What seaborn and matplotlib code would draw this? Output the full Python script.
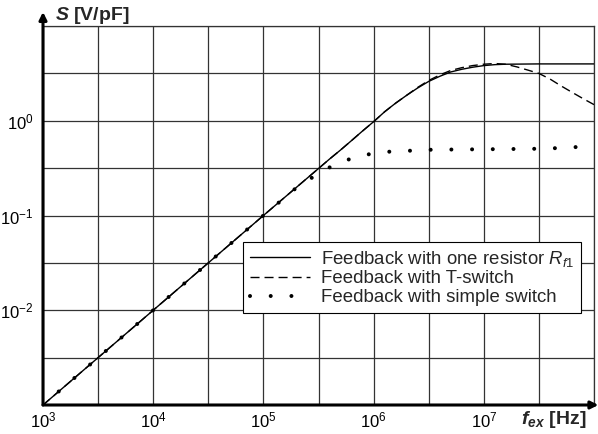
import matplotlib
matplotlib.use("Agg")
import matplotlib.pyplot as plt
import seaborn as sns
import pandas as pd
from matplotlib.ticker import FixedLocator, FixedFormatter, NullLocator

# ---- data ----
freq_one_resistor = [1e3, 1e4, 1e5, 3.16e5, 3.98e5, 5e5, 6.3e5, 7.9e5, 1e6, 1.26e6, 1.58e6, 2e6,
                     2.5e6, 3.16e6, 4e6, 5e6, 6.3e6, 7.9e6, 1e7, 1.26e7, 1.58e7, 3.16e7, 1e8]
s_one_resistor = [0.001, 0.01, 0.1, 0.313, 0.394, 0.49, 0.617, 0.776, 0.977, 1.245, 1.53, 1.86,
                  2.21, 2.6, 2.95, 3.27, 3.49, 3.67, 3.82, 3.91, 3.95, 3.98, 3.98]

freq_t_switch = [1e3, 1e4, 1e5, 3.16e5, 3.98e5, 5e5, 6.3e5, 7.9e5, 1e6, 1.26e6, 1.58e6, 2e6,
                 2.5e6, 3.16e6, 4e6, 5e6, 6.3e6, 7.9e6, 1e7, 1.26e7, 1.58e7, 2e7, 2.5e7,
                 3.16e7, 4e7, 5e7, 6.3e7, 7.9e7, 1e8]
s_t_switch = [0.001, 0.01, 0.1, 0.313, 0.394, 0.49, 0.617, 0.776, 0.977, 1.245, 1.53, 1.86,
              2.24, 2.66, 3.05, 3.39, 3.63, 3.82, 3.95, 4.02, 3.95, 3.70, 3.43,
              3.16, 2.75, 2.34, 2.0, 1.72, 1.48]

freq_simple_switch = [1e3, 1e4, 1e5, 2e5, 2.85e5, 4.1e5, 6.2e5, 9.3e5, 1.4e6, 3.4e6, 1e7, 3.6e7, 7e7, 1e8]
s_simple_switch = [0.001, 0.01, 0.1, 0.197, 0.257, 0.328, 0.398, 0.446, 0.472, 0.495, 0.50, 0.507, 0.528, 0.535]

legend_labels = [
    r"Feedback with one resistor $\mathit{R_{f1}}$",
    "Feedback with T-switch",
    "Feedback with simple switch",
]

x_tick_exponents = [3, 4, 5, 6, 7]
y_tick_exponents = [-2, -1, 0]

# ---- style ----
sns.set_theme(style="white")
plt.rcParams["font.family"] = ["Liberation Sans", "DejaVu Sans"]
plt.rcParams["mathtext.fontset"] = "custom"
plt.rcParams["mathtext.rm"] = "Liberation Sans"
plt.rcParams["mathtext.it"] = "Liberation Sans:italic"
plt.rcParams["mathtext.bf"] = "Liberation Sans:bold"
plt.rcParams["mathtext.bfit"] = "Liberation Sans:bold:italic"
plt.rcParams["mathtext.default"] = "regular"
plt.rcParams["lines.scale_dashes"] = False

fig = plt.figure(figsize=(5.98, 4.34), dpi=100)
ax = fig.add_axes([43 / 598, 29 / 434, 551 / 598, 379 / 434])
ax.set_xscale("log")
ax.set_yscale("log")

df1 = pd.DataFrame({"f": freq_one_resistor, "S": s_one_resistor})
df2 = pd.DataFrame({"f": freq_t_switch, "S": s_t_switch})
df3 = pd.DataFrame({"f": freq_simple_switch, "S": s_simple_switch})

sns.lineplot(data=df1, x="f", y="S", ax=ax, color="black", lw=1.0,
             label=legend_labels[0], estimator=None, sort=False, zorder=3)
sns.lineplot(data=df2, x="f", y="S", ax=ax, color="black", lw=1.0,
             linestyle=(0, (6.5, 3.6)), label=legend_labels[1],
             estimator=None, sort=False, zorder=3)
sns.lineplot(data=df3, x="f", y="S", ax=ax, color="black", lw=2.9,
             linestyle=(0, (0.01, 14.9)), dash_capstyle="round",
             label=legend_labels[2], estimator=None, sort=False, zorder=3)

ax.set_xlim(1e3, 1e8)
ax.set_ylim(1e-3, 1e1)

# grid at every half decade
xgrid = [10 ** (k / 2) for k in range(6, 17)]
ygrid = [10 ** (k / 2) for k in range(-6, 3)]
xlabels = [(r"$10^{%d}$" % (k // 2)) if (k % 2 == 0 and k // 2 in x_tick_exponents) else "" for k in range(6, 17)]
ylabels = [(r"$10^{%d}$" % (k // 2)) if (k % 2 == 0 and k // 2 in y_tick_exponents) else "" for k in range(-6, 3)]
ax.xaxis.set_major_locator(FixedLocator(xgrid))
ax.xaxis.set_major_formatter(FixedFormatter(xlabels))
ax.yaxis.set_major_locator(FixedLocator(ygrid))
ax.yaxis.set_major_formatter(FixedFormatter(ylabels))
ax.xaxis.set_minor_locator(NullLocator())
ax.yaxis.set_minor_locator(NullLocator())
ax.grid(True, which="major", color="#333333", lw=0.9)
ax.set_axisbelow(True)
ax.tick_params(axis="both", length=0, labelsize=12, colors="black")
ax.tick_params(axis="x", pad=4)
ax.tick_params(axis="y", pad=7)
ax.set_xlabel("")
ax.set_ylabel("")

for side in ["left", "bottom"]:
    ax.spines[side].set_visible(False)
for side in ["top", "right"]:
    ax.spines[side].set_color("#333333")
    ax.spines[side].set_linewidth(0.9)

arrow = dict(arrowstyle="-|>", color="black", lw=2.2, mutation_scale=11, shrinkA=0, shrinkB=0)
ax.annotate("", xy=(1.008, 0), xytext=(0, 0), xycoords="axes fraction",
            arrowprops=arrow, annotation_clip=False)
ax.annotate("", xy=(0, 1.037), xytext=(0, 0), xycoords="axes fraction",
            arrowprops=arrow, annotation_clip=False)

fig.text(55 / 598, 1 - 15 / 434, r"$\mathbfit{S}$ [V/pF]", fontsize=14,
         fontweight="bold", ha="left", va="center")
fig.text(521 / 598, 1 - 419 / 434, r"$\mathbfit{f}_{\mathbfit{ex}}$ [Hz]", fontsize=14,
         fontweight="bold", ha="left", va="center")

leg = ax.legend(loc="upper left", bbox_to_anchor=(0.363, 0.430), borderaxespad=0,
                fontsize=13.4, frameon=True, fancybox=False, framealpha=1,
                edgecolor="black", handlelength=3.25, handletextpad=0.6,
                labelspacing=0.1, borderpad=0.35)
leg.get_frame().set_linewidth(0.8)
leg.set_zorder(5)

fig.savefig("out.png", dpi=100)
